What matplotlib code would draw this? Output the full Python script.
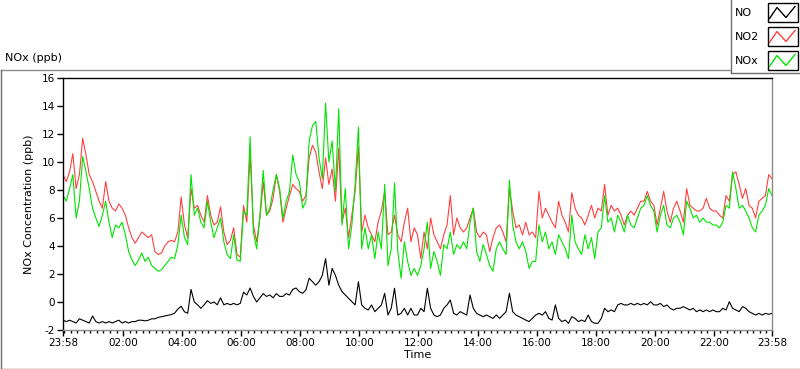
import matplotlib.pyplot as plt
from matplotlib.patches import Rectangle
from matplotlib.lines import Line2D
import numpy as np

plt.rcParams['font.family'] = 'DejaVu Sans'
plt.rcParams['axes.unicode_minus'] = False

W, H = 800, 369

# readings from 23:58 to 23:58 next day, evenly spaced (~6.7 min)
no = [-1.3, -1.4, -1.3, -1.4, -1.5, -1.2, -1.3, -1.4, -1.5, -1.0, -1.4, -1.5,
      -1.4, -1.5, -1.4, -1.5, -1.4, -1.3, -1.5, -1.4, -1.5, -1.4, -1.4, -1.3,
      -1.3, -1.35, -1.3, -1.2, -1.2, -1.1, -1.05, -1.0, -0.95, -0.9, -0.8, -0.5,
      -0.3, -0.7, -0.8, 0.9, 0.0, -0.2, -0.45, -0.2, 0.1, -0.1, 0.0, -0.2,
      0.3, -0.2, -0.1, -0.2, -0.1, -0.2, -0.1, 0.7, 0.5, 1.0, 0.4, 0.0,
      0.3, 0.6, 0.4, 0.5, 0.3, 0.6, 0.4, 0.4, 0.6, 0.5, 0.9, 1.0,
      0.74, 0.62, 0.86, 1.7, 1.45, 1.2, 1.45, 1.9, 3.1, 1.2, 2.4, 1.9,
      1.2, 0.74, 0.5, 0.26, 0.02, -0.21, 1.45, -0.21, -0.45, -0.57, -0.21, -0.69,
      -0.45, -0.21, 0.62, -0.93, -0.45, 0.98, -0.93, -0.81, -0.45, -0.93, -0.45, -0.93,
      -0.93, -0.45, -0.69, 0.98, -0.45, -0.93, -1.05, -0.93, -0.45, -0.21, 0.14, -0.81,
      -0.93, -0.69, -0.81, -0.93, 0.5, -0.45, -0.81, -0.93, -1.05, -0.93, -1.05, -1.17,
      -0.93, -1.17, -0.93, -0.69, 0.62, -0.69, -0.93, -1.05, -1.17, -1.29, -1.4, -1.17,
      -0.93, -0.81, -0.93, -0.69, -1.17, -1.29, -0.21, -1.17, -1.4, -1.29, -1.52, -1.05,
      -1.17, -1.4, -1.29, -1.4, -0.93, -1.4, -1.52, -1.52, -1.17, -0.45, -0.69, -0.57,
      -0.69, -0.21, -0.1, -0.21, -0.21, -0.1, -0.21, -0.1, -0.21, -0.1, -0.21, 0.02,
      -0.21, -0.21, -0.1, -0.33, -0.21, -0.45, -0.57, -0.45, -0.45, -0.33, -0.45, -0.57,
      -0.45, -0.69, -0.57, -0.69, -0.57, -0.69, -0.57, -0.69, -0.69, -0.45, -0.57, 0.02,
      -0.45, -0.57, -0.69, -0.33, -0.45, -0.69, -0.81, -0.93, -0.81, -0.93, -0.81, -0.88, -0.81]

no2 = [9.1, 8.6, 9.3, 10.6, 8.1, 9.1, 11.7, 10.5, 9.1, 8.6, 7.9, 7.2,
       6.7, 8.6, 7.2, 6.7, 6.5, 7.0, 6.7, 6.2, 5.3, 4.6, 4.2, 4.6,
       5.0, 4.8, 4.6, 4.8, 3.6, 3.4, 3.5, 4.0, 4.3, 4.4, 4.3, 5.0,
       7.5, 5.5, 4.6, 8.1, 6.7, 6.9, 6.2, 5.7, 7.6, 6.2, 5.5, 5.7,
       6.8, 5.0, 4.1, 4.4, 5.3, 3.4, 3.2, 6.9, 5.7, 10.6, 5.5, 4.3,
       6.0, 8.6, 6.2, 6.5, 7.4, 9.1, 7.9, 5.7, 6.7, 7.6, 8.4, 8.1,
       7.9, 7.2, 7.6, 10.3, 11.2, 10.7, 9.3, 8.1, 10.3, 8.4, 9.5, 7.2,
       11.0, 5.7, 6.7, 4.6, 6.2, 7.9, 11.1, 5.0, 6.2, 5.3, 4.8, 4.3,
       5.7, 6.5, 7.9, 4.8, 5.0, 6.2, 4.8, 4.3, 5.7, 6.7, 4.3, 5.3,
       4.8, 3.1, 5.0, 3.8, 6.0, 4.8, 4.3, 3.8, 4.8, 5.5, 7.6, 4.8,
       6.0, 5.3, 5.0, 5.3, 6.0, 6.7, 5.0, 4.6, 5.0, 4.8, 3.6, 4.6,
       5.3, 5.5, 5.0, 4.3, 8.1, 6.5, 5.3, 5.5, 4.8, 5.7, 4.8, 5.0,
       4.6, 7.9, 6.0, 6.7, 6.2, 5.7, 5.3, 7.2, 6.2, 5.7, 5.0, 7.8,
       6.7, 6.2, 6.0, 5.5, 6.2, 6.9, 6.0, 6.7, 6.5, 8.4, 6.2, 6.9,
       6.5, 6.7, 6.2, 5.5, 6.2, 6.5, 6.2, 6.7, 7.2, 7.2, 7.9, 7.2,
       6.9, 5.5, 6.7, 7.9, 6.5, 5.7, 6.7, 7.2, 6.5, 5.7, 8.1, 6.9,
       6.7, 6.5, 6.5, 6.7, 7.4, 6.7, 6.5, 6.5, 6.2, 6.0, 7.6, 7.2,
       9.1, 9.3, 8.4, 7.4, 8.1, 6.9, 6.7, 6.0, 7.2, 7.4, 7.6, 9.1, 8.8]

nox = [7.6, 7.2, 8.1, 9.1, 6.0, 7.2, 10.4, 9.3, 8.1, 6.7, 6.0, 5.4,
       6.2, 7.2, 5.7, 4.6, 5.5, 5.3, 5.7, 4.8, 3.6, 3.0, 2.6, 3.0,
       3.5, 2.9, 3.2, 2.6, 2.4, 2.2, 2.3, 2.6, 2.9, 3.2, 3.1, 4.1,
       6.2, 4.6, 4.1, 9.1, 6.2, 6.7, 5.7, 5.3, 7.2, 5.7, 4.6, 5.3,
       6.0, 4.3, 3.4, 3.1, 4.8, 3.0, 2.9, 6.5, 6.2, 11.8, 5.0, 3.8,
       6.2, 9.4, 6.2, 6.7, 8.0, 9.1, 8.1, 6.0, 7.2, 7.9, 10.5, 9.1,
       8.6, 6.7, 7.2, 11.5, 12.6, 12.9, 10.3, 8.8, 14.2, 10.0, 11.5, 7.9,
       13.8, 5.5, 8.1, 3.8, 5.5, 8.4, 12.5, 3.8, 5.3, 3.8, 4.8, 3.1,
       5.0, 3.8, 8.4, 2.6, 3.8, 8.5, 3.6, 1.7, 4.3, 2.9, 1.9, 2.4,
       1.9, 2.6, 3.8, 5.7, 2.4, 3.6, 2.9, 1.9, 4.1, 3.8, 5.0, 3.4,
       4.1, 3.8, 4.3, 3.8, 5.7, 6.7, 3.6, 2.9, 4.1, 3.4, 2.6, 2.2,
       3.8, 4.3, 3.8, 3.4, 8.7, 5.5, 4.3, 3.8, 4.3, 3.6, 2.4, 2.9,
       2.9, 5.5, 4.3, 5.0, 3.8, 4.3, 3.4, 4.8, 4.3, 3.8, 3.1, 6.2,
       4.3, 3.8, 3.4, 4.8, 3.8, 4.6, 3.1, 5.0, 5.3, 7.6, 5.7, 6.0,
       5.0, 6.2, 5.7, 5.0, 6.2, 5.5, 5.3, 6.0, 6.7, 6.9, 7.6, 6.9,
       6.5, 5.0, 6.2, 6.9, 5.5, 5.3, 6.0, 6.2, 5.7, 4.8, 7.2, 6.7,
       6.0, 6.2, 5.7, 6.0, 5.7, 5.7, 5.5, 5.5, 5.3, 5.7, 6.9, 6.7,
       9.3, 8.1, 6.7, 6.9, 6.5, 6.0, 5.3, 5.0, 6.2, 6.5, 6.9, 8.1, 7.6]

tick_labels = ['23:58', '02:00', '04:00', '06:00', '08:00', '10:00', '12:00',
               '14:00', '16:00', '18:00', '20:00', '22:00', '23:58']
# hours since 23:58
tick_hours = [0] + [h + 2 / 60 for h in range(2, 23, 2)] + [24]


def fx(x):
    return x / W


def fy(y):
    return 1 - y / H


fig = plt.figure(figsize=(8, 3.69), dpi=100)
fig.patch.set_facecolor('white')

# outer panel frame
fig.add_artist(Line2D([fx(0.5), fx(730)], [fy(69.5), fy(69.5)], color='#8c8c8c', lw=1))
fig.add_artist(Line2D([fx(0.5), fx(0.5)], [fy(69.5), fy(368.5)], color='#6e6e6e', lw=1))
fig.add_artist(Line2D([fx(0.5), fx(800)], [fy(368.5), fy(368.5)], color='#6e6e6e', lw=1))
fig.text(fx(5), fy(58), 'NOx (ppb)', fontsize=8, va='center', ha='left')

ax = fig.add_axes([fx(63), fy(330), fx(772 - 63), (330 - 78) / H])
t_no = np.linspace(0, 24, len(no))
t_no2 = np.linspace(0, 24, len(no2))
t_nox = np.linspace(0, 24, len(nox))
ax.plot(t_no, no, color='black', lw=0.8)
ax.plot(t_no2, no2, color='#ff4040', lw=0.8)
ax.plot(t_nox, nox, color='#00e400', lw=0.8)

ax.set_xlim(0, 24)
ax.set_ylim(-2, 16)
ax.set_yticks(range(-2, 17, 2))
ax.set_xticks(tick_hours)
ax.set_xticklabels(tick_labels)
ax.set_xticks([2 / 60 + k * 2 / 9 for k in range(108)], minor=True)
ax.tick_params(axis='both', which='major', labelsize=7.5, length=4, width=1, pad=2)
ax.tick_params(axis='x', which='minor', length=2.5, width=1)
ax.set_xlabel('Time', fontsize=8, labelpad=1)
ax.set_ylabel('NOx Concentration (ppb)', fontsize=8, labelpad=5)

ax.spines['top'].set_color('black')
ax.spines['left'].set_color('black')
ax.spines['bottom'].set_color('#8c8c8c')
ax.spines['right'].set_color('#8c8c8c')
for s in ax.spines.values():
    s.set_linewidth(1)

# legend box (top right)
fig.add_artist(Line2D([fx(730.5), fx(730.5)], [fy(0), fy(72.5)], color='#6e6e6e', lw=1))
fig.add_artist(Line2D([fx(730.5), fx(800)], [fy(72.5), fy(72.5)], color='#6e6e6e', lw=1))
leg_names = ['NO', 'NO2', 'NOx']
leg_colors = ['black', '#ff4040', '#00e400']
for i, (name, col) in enumerate(zip(leg_names, leg_colors)):
    cy = 12.5 + i * 24
    fig.text(fx(735), fy(cy + 1), name, fontsize=8, va='center', ha='left')
    fig.add_artist(Rectangle((fx(767.5), fy(cy + 9.5)), 30 / W, 19 / H,
                             transform=fig.transFigure, facecolor='white',
                             edgecolor='black', lw=1))
    fig.add_artist(Line2D([fx(769.5), fx(777), fx(786), fx(795)],
                          [fy(cy + 6), fy(cy - 5), fy(cy + 5), fy(cy - 6)],
                          color=col, lw=1))

fig.savefig('out.png', dpi=100)
